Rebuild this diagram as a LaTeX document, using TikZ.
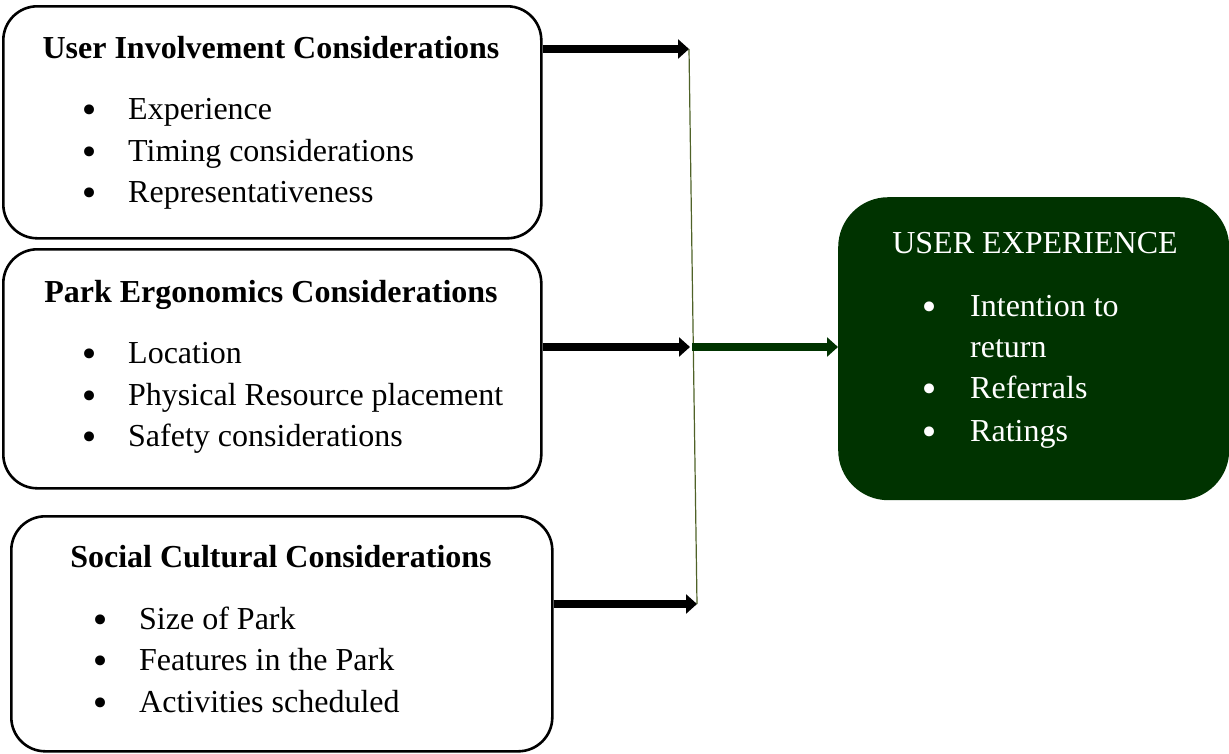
\documentclass[tikz,border=0pt]{standalone}
\usepackage{fontspec}
\setmainfont{Liberation Serif}
\newfontfamily\bulfont{DejaVu Sans}
\usetikzlibrary{arrows.meta}
\definecolor{dgreen}{HTML}{003300}
\definecolor{vline}{HTML}{4F6228}
\begin{document}
\begin{tikzpicture}[x=1pt,y=-1pt,
  box/.style={draw=black,line width=2.6pt,rounded corners=34pt,fill=white},
  gbox/.style={fill=dgreen,rounded corners=50pt},
  ttl/.style={font=\fontsize{32}{40}\selectfont\bfseries,anchor=base,inner sep=0pt},
  itm/.style={font=\fontsize{32}{40}\selectfont,anchor=base west,inner sep=0pt},
  bul/.style={font=\bulfont\fontsize{34}{34}\selectfont,anchor=base,inner sep=0pt,yshift=-12pt},
  warr/.style={line width=8pt,-{Triangle[length=11pt,width=19pt]}},
]
\useasboundingbox (0,0) rectangle (1229,753);
% boxes
\node[box,minimum width=538pt,minimum height=232pt,anchor=north west] (b1) at (2,5) {};
\node[box,minimum width=538pt,minimum height=239pt,anchor=north west] (b2) at (2,248) {};
\node[box,minimum width=541pt,minimum height=235pt,anchor=north west] (b3) at (10,515) {};
\node[gbox,minimum width=391pt,minimum height=303pt,anchor=north west] (g) at (838,197) {};
% box 1 text
\node[ttl] (t1) at (271,58) {User Involvement Considerations};
\node[bul] (b1a) at (90,110) {•}; \node[itm] (i1a) at (128,119) {Experience};
\node[bul] (b1b) at (90,152) {•}; \node[itm] (i1b) at (128,161) {Timing considerations};
\node[bul] (b1c) at (90,193) {•}; \node[itm] (i1c) at (128,202) {Representativeness};
% box 2 text
\node[ttl] (t2) at (271,302) {Park Ergonomics Considerations};
\node[bul] (b2a) at (90,354) {•}; \node[itm] (i2a) at (128,363) {Location};
\node[bul] (b2b) at (90,396) {•}; \node[itm] (i2b) at (128,405) {Physical Resource placement};
\node[bul] (b2c) at (90,437) {•}; \node[itm] (i2c) at (128,446) {Safety considerations};
% box 3 text
\node[ttl] (t3) at (281,567) {Social Cultural Considerations};
\node[bul] (b3a) at (101,620) {•}; \node[itm] (i3a) at (139,629) {Size of Park};
\node[bul] (b3b) at (101,661) {•}; \node[itm] (i3b) at (139,670) {Features in the Park};
\node[bul] (b3c) at (101,703) {•}; \node[itm] (i3c) at (139,712) {Activities scheduled};
% green box text
\node[ttl,font=\fontsize{32}{40}\selectfont,text=white] (tg) at (1035,253) {USER EXPERIENCE};
\node[bul,text=white] (bga) at (930,307) {•}; \node[itm,text=white] (iga) at (970,316) {Intention to};
\node[itm,text=white] (igb) at (970,357) {return};
\node[bul,text=white] (bgc) at (930,389) {•}; \node[itm,text=white] (igc) at (970,398) {Referrals};
\node[bul,text=white] (bgd) at (930,432) {•}; \node[itm,text=white] (igd) at (970,441) {Ratings};
% connectors
\coordinate (j1) at (689,49);
\coordinate (j2) at (690,347);
\coordinate (j3) at (697,604);
\draw[vline,line width=1.2pt] (j1) -- (j3);
\draw[warr] (b1.east |- j1) -- (j1);
\draw[warr] (b2.east |- j2) -- (j2);
\draw[warr] (b3.east |- j3) -- (j3);
\draw[warr,draw=dgreen,fill=dgreen] ([xshift=2pt]j2) -- (g.west |- j2);
\end{tikzpicture}
\end{document}
